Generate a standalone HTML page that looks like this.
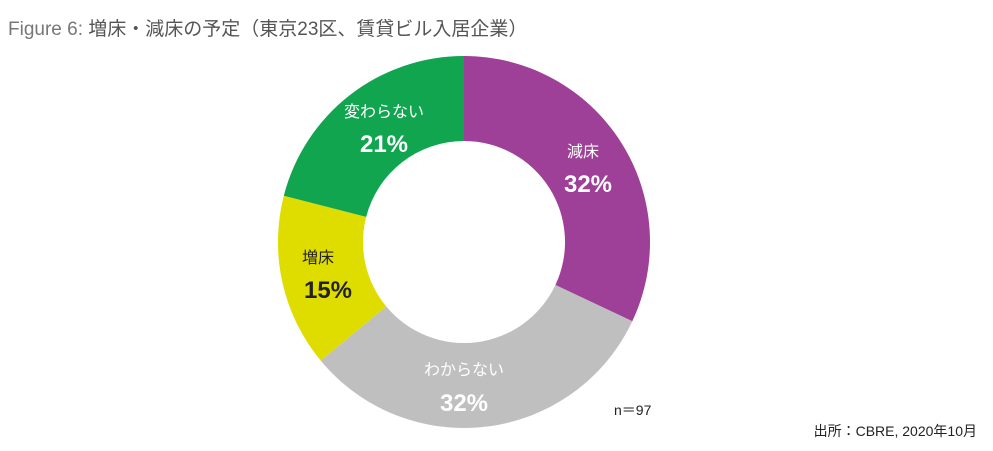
<!DOCTYPE html>
<html><head><meta charset="utf-8"><style>
body{margin:0;width:993px;height:451px;background:#fff;overflow:hidden;font-family:"Liberation Sans","Noto Sans CJK JP",sans-serif}
</style></head><body>
<svg width="993" height="451" viewBox="0 0 993 451" xmlns="http://www.w3.org/2000/svg" style="position:absolute;left:0;top:0">
<text x="8" y="35" font-size="19" fill="#777" font-family="Liberation Sans, Noto Sans CJK JP, sans-serif">Figure 6: <tspan fill="#555">増床・減床の予定（東京23区、賃貸ビル入居企業）</tspan></text>
<path d="M464,56 A186,186 0 0 1 632.3,321.2 L555.4,285.0 A101,101 0 0 0 464,141 Z" fill="#9e3f98"/>
<path d="M632.3,321.2 A186,186 0 0 1 320.7,360.6 L386.2,306.4 A101,101 0 0 0 555.4,285.0 Z" fill="#bfbfbf"/>
<path d="M320.7,360.6 A186,186 0 0 1 283.8,195.7 L366.2,216.9 A101,101 0 0 0 386.2,306.4 Z" fill="#dfdc00"/>
<path d="M283.8,195.7 A186,186 0 0 1 464,56 L464,141 A101,101 0 0 0 366.2,216.9 Z" fill="#11a550"/>
<g font-family="Liberation Sans, Noto Sans CJK JP, sans-serif" text-anchor="middle">
<text x="583" y="157" font-size="16" fill="#fff">減床</text>
<text x="588" y="192" font-size="24" font-weight="bold" fill="#fff">32%</text>
<text x="464" y="375" font-size="16" fill="#fff">わからない</text>
<text x="464" y="411" font-size="24" font-weight="bold" fill="#fff">32%</text>
<text x="318" y="263" font-size="16" fill="#222">増床</text>
<text x="328" y="298" font-size="24" font-weight="bold" fill="#222">15%</text>
<text x="384" y="117" font-size="16" fill="#fff">変わらない</text>
<text x="384" y="152" font-size="24" font-weight="bold" fill="#fff">21%</text>
</g>
<text x="614" y="415" font-size="14" fill="#222">n＝97</text>
<text x="977" y="436" font-size="14" fill="#222" text-anchor="end">出所：CBRE, 2020年10月</text>
</svg>
</body></html>
